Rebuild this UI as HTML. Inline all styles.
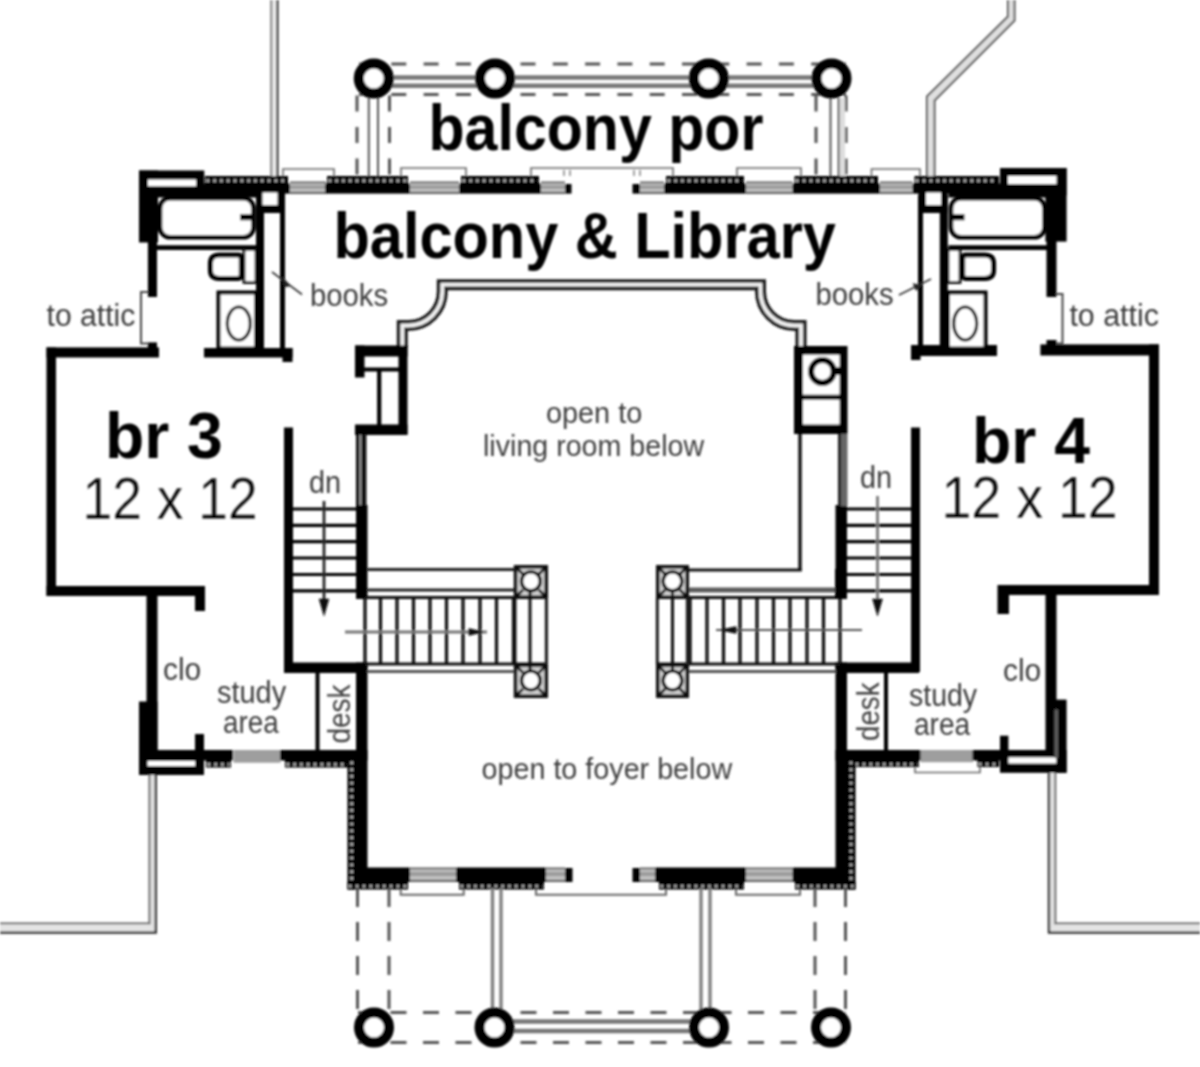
<!DOCTYPE html>
<html><head><meta charset="utf-8"><title>Floor plan</title>
<style>
html,body{margin:0;padding:0;background:#fff;}
svg{display:block;}
text{font-family:"Liberation Sans",sans-serif;}
</style></head>
<body>
<svg width="1200" height="1067" viewBox="0 0 1200 1067">
<defs><filter id="bl" x="0" y="0" width="1200" height="1067" filterUnits="userSpaceOnUse"><feGaussianBlur stdDeviation="0.8"/></filter></defs>
<rect width="1200" height="1067" fill="#fff"/>
<g filter="url(#bl)">
<line x1="357.00" y1="64.00" x2="846.00" y2="64.00" stroke="#555" stroke-width="3" stroke-dasharray="15 17.3" stroke-dashoffset="-2"/>
<line x1="357.00" y1="94.50" x2="846.00" y2="94.50" stroke="#555" stroke-width="3" stroke-dasharray="15 17.3" stroke-dashoffset="-2"/>
<line x1="374.00" y1="77.50" x2="831.00" y2="77.50" stroke="#777" stroke-width="4.5" />
<line x1="374.00" y1="85.80" x2="831.00" y2="85.80" stroke="#777" stroke-width="4.5" />
<line x1="357.00" y1="95.50" x2="357.00" y2="176.00" stroke="#555" stroke-width="3" stroke-dasharray="16 15.5"/>
<line x1="389.50" y1="95.50" x2="389.50" y2="176.00" stroke="#555" stroke-width="3" stroke-dasharray="16 15.5"/>
<line x1="816.00" y1="95.50" x2="816.00" y2="176.00" stroke="#555" stroke-width="3" stroke-dasharray="16 15.5"/>
<line x1="846.00" y1="95.50" x2="846.00" y2="176.00" stroke="#555" stroke-width="3" stroke-dasharray="16 15.5"/>
<line x1="368.80" y1="98.00" x2="368.80" y2="176.00" stroke="#555" stroke-width="2" />
<line x1="378.00" y1="98.00" x2="378.00" y2="176.00" stroke="#555" stroke-width="2" />
<line x1="830.50" y1="98.00" x2="830.50" y2="176.00" stroke="#555" stroke-width="2" />
<line x1="838.70" y1="98.00" x2="838.70" y2="176.00" stroke="#555" stroke-width="2" />
<rect x="840.00" y="98.00" width="5.00" height="78.00" fill="#ddd" />
<circle cx="373.75" cy="78.50" r="15.00" stroke="#000" stroke-width="10" fill="#fff"/>
<circle cx="495.00" cy="78.50" r="15.00" stroke="#000" stroke-width="10" fill="#fff"/>
<circle cx="708.75" cy="78.50" r="15.00" stroke="#000" stroke-width="10" fill="#fff"/>
<circle cx="831.50" cy="78.50" r="15.00" stroke="#000" stroke-width="10" fill="#fff"/>
<rect x="271.00" y="0.00" width="7.00" height="176.00" fill="#eee" />
<line x1="271.30" y1="0.00" x2="271.30" y2="176.00" stroke="#777" stroke-width="2" />
<line x1="277.30" y1="0.00" x2="277.30" y2="176.00" stroke="#444" stroke-width="2.6" />
<path d="M930.8 176 V98.5 L1011.2 18.5 V0" stroke="#e0e0e0" stroke-width="6" fill="none" />
<path d="M927 176 V96.5 L1008 16.5 V0" stroke="#555" stroke-width="2" fill="none" />
<path d="M934.5 176 V100.5 L1014.5 20.5 V0" stroke="#555" stroke-width="2" fill="none" />
<path d="M283 176.5 V169 H334 V176.5" stroke="#666" stroke-width="1.6" fill="none" />
<path d="M401 176.5 V168 H466 V176.5" stroke="#666" stroke-width="1.6" fill="none" />
<path d="M531 176.5 V168 H673 V176.5" stroke="#666" stroke-width="1.6" fill="none" />
<line x1="564.00" y1="170.00" x2="564.00" y2="176.00" stroke="#777" stroke-width="1.4" />
<line x1="570.00" y1="170.00" x2="570.00" y2="176.00" stroke="#777" stroke-width="1.4" />
<line x1="634.00" y1="170.00" x2="634.00" y2="176.00" stroke="#777" stroke-width="1.4" />
<line x1="640.00" y1="170.00" x2="640.00" y2="176.00" stroke="#777" stroke-width="1.4" />
<path d="M737 176.5 V168 H801 V176.5" stroke="#666" stroke-width="1.6" fill="none" />
<path d="M871.5 176.5 V169 H920 V176.5" stroke="#666" stroke-width="1.6" fill="none" />
<rect x="205.00" y="176.00" width="83.00" height="8.00" fill="#000" />
<line x1="206.50" y1="180.60" x2="286.50" y2="180.60" stroke="#b8b8b8" stroke-width="2.8" stroke-dasharray="2.6 4.2"/>
<rect x="203.00" y="183.50" width="87.00" height="10.10" fill="#000" />
<rect x="290.00" y="181.50" width="36.00" height="12.50" fill="#c4c4c4" />
<rect x="290.00" y="185.25" width="36.00" height="3.75" fill="#9c9c9c" />
<line x1="290.00" y1="182.50" x2="326.00" y2="182.50" stroke="#707070" stroke-width="2" />
<line x1="290.00" y1="192.90" x2="326.00" y2="192.90" stroke="#606060" stroke-width="2.2" />
<rect x="327.00" y="176.00" width="81.00" height="8.00" fill="#000" />
<line x1="328.50" y1="180.60" x2="406.50" y2="180.60" stroke="#b8b8b8" stroke-width="2.8" stroke-dasharray="2.6 4.2"/>
<rect x="325.00" y="183.50" width="85.00" height="10.10" fill="#000" />
<rect x="410.00" y="181.50" width="49.00" height="12.50" fill="#c4c4c4" />
<rect x="410.00" y="185.25" width="49.00" height="3.75" fill="#9c9c9c" />
<line x1="410.00" y1="182.50" x2="459.00" y2="182.50" stroke="#707070" stroke-width="2" />
<line x1="410.00" y1="192.90" x2="459.00" y2="192.90" stroke="#606060" stroke-width="2.2" />
<rect x="461.00" y="176.00" width="78.00" height="8.00" fill="#000" />
<line x1="462.50" y1="180.60" x2="537.50" y2="180.60" stroke="#b8b8b8" stroke-width="2.8" stroke-dasharray="2.6 4.2"/>
<rect x="459.00" y="183.50" width="82.00" height="10.10" fill="#000" />
<rect x="541.00" y="181.50" width="24.00" height="12.50" fill="#c4c4c4" />
<rect x="541.00" y="185.25" width="24.00" height="3.75" fill="#9c9c9c" />
<line x1="541.00" y1="182.50" x2="565.00" y2="182.50" stroke="#707070" stroke-width="2" />
<line x1="541.00" y1="192.90" x2="565.00" y2="192.90" stroke="#606060" stroke-width="2.2" />
<rect x="565.00" y="184.00" width="6.50" height="9.60" fill="#000" />
<rect x="632.50" y="184.00" width="7.50" height="9.60" fill="#000" />
<rect x="640.00" y="181.50" width="24.00" height="12.50" fill="#c4c4c4" />
<rect x="640.00" y="185.25" width="24.00" height="3.75" fill="#9c9c9c" />
<line x1="640.00" y1="182.50" x2="664.00" y2="182.50" stroke="#707070" stroke-width="2" />
<line x1="640.00" y1="192.90" x2="664.00" y2="192.90" stroke="#606060" stroke-width="2.2" />
<rect x="666.00" y="176.00" width="78.00" height="8.00" fill="#000" />
<line x1="667.50" y1="180.60" x2="742.50" y2="180.60" stroke="#b8b8b8" stroke-width="2.8" stroke-dasharray="2.6 4.2"/>
<rect x="664.00" y="183.50" width="82.00" height="10.10" fill="#000" />
<rect x="746.00" y="181.50" width="46.50" height="12.50" fill="#c4c4c4" />
<rect x="746.00" y="185.25" width="46.50" height="3.75" fill="#9c9c9c" />
<line x1="746.00" y1="182.50" x2="792.50" y2="182.50" stroke="#707070" stroke-width="2" />
<line x1="746.00" y1="192.90" x2="792.50" y2="192.90" stroke="#606060" stroke-width="2.2" />
<rect x="794.50" y="176.00" width="83.50" height="8.00" fill="#000" />
<line x1="796.00" y1="180.60" x2="876.50" y2="180.60" stroke="#b8b8b8" stroke-width="2.8" stroke-dasharray="2.6 4.2"/>
<rect x="792.50" y="183.50" width="87.50" height="10.10" fill="#000" />
<rect x="880.00" y="181.50" width="32.50" height="12.50" fill="#c4c4c4" />
<rect x="880.00" y="185.25" width="32.50" height="3.75" fill="#9c9c9c" />
<line x1="880.00" y1="182.50" x2="912.50" y2="182.50" stroke="#707070" stroke-width="2" />
<line x1="880.00" y1="192.90" x2="912.50" y2="192.90" stroke="#606060" stroke-width="2.2" />
<rect x="914.50" y="176.00" width="84.50" height="8.00" fill="#000" />
<line x1="916.00" y1="180.60" x2="997.50" y2="180.60" stroke="#b8b8b8" stroke-width="2.8" stroke-dasharray="2.6 4.2"/>
<rect x="912.50" y="183.50" width="88.50" height="10.10" fill="#000" />
<rect x="139.00" y="170.50" width="65.30" height="25.50" fill="#000" />
<rect x="1000.00" y="168.00" width="66.60" height="27.50" fill="#000" />
<rect x="139.00" y="170.50" width="19.00" height="72.00" fill="#000" />
<rect x="1045.40" y="168.00" width="21.20" height="73.60" fill="#000" />
<rect x="147.90" y="179.50" width="48.10" height="6.70" fill="#fff" />
<rect x="1008.00" y="176.00" width="48.50" height="8.00" fill="#fff" />
<rect x="147.90" y="242.00" width="9.10" height="55.00" fill="#000" />
<rect x="1046.50" y="241.00" width="10.00" height="56.00" fill="#000" />
<rect x="147.90" y="342.40" width="9.10" height="5.60" fill="#000" />
<rect x="1046.50" y="340.00" width="10.00" height="5.50" fill="#000" />
<rect x="46.50" y="347.40" width="112.50" height="10.10" fill="#000" />
<rect x="1040.40" y="344.40" width="118.60" height="11.10" fill="#000" />
<path d="M148 292 H141 V343.5 H148" stroke="#444" stroke-width="2" fill="none" />
<path d="M1056 294 H1062.5 V343.4 H1056" stroke="#444" stroke-width="2" fill="none" />
<rect x="256.00" y="195.00" width="8.00" height="155.00" fill="#000" />
<rect x="939.80" y="195.00" width="8.00" height="155.00" fill="#000" />
<rect x="280.00" y="195.00" width="5.00" height="155.00" fill="#000" />
<rect x="918.00" y="195.00" width="5.00" height="155.00" fill="#000" />
<rect x="256.00" y="192.00" width="29.00" height="21.00" fill="#000" />
<rect x="918.50" y="192.00" width="29.00" height="21.00" fill="#000" />
<rect x="262.50" y="192.50" width="15.00" height="12.50" fill="#fff" />
<rect x="926.00" y="192.50" width="15.00" height="12.50" fill="#fff" />
<rect x="204.00" y="348.00" width="88.50" height="9.50" fill="#000" />
<rect x="282.50" y="348.00" width="10.00" height="14.00" fill="#000" />
<rect x="911.00" y="345.00" width="86.00" height="11.00" fill="#000" />
<rect x="911.00" y="345.00" width="9.50" height="15.00" fill="#000" />
<rect x="156.00" y="193.00" width="100.00" height="4.50" fill="#000" />
<rect x="948.50" y="193.00" width="100.00" height="4.50" fill="#000" />
<rect x="160.00" y="198.3" width="93.50" height="39" rx="10" ry="10" fill="#fff" stroke="#000" stroke-width="4.6"/>
<line x1="156.00" y1="247.60" x2="256.00" y2="247.60" stroke="#000" stroke-width="4.8" />
<rect x="240.00" y="214.00" width="13.00" height="6.30" fill="#000" />
<rect x="951.00" y="198.3" width="93.50" height="39" rx="10" ry="10" fill="#fff" stroke="#000" stroke-width="4.6"/>
<line x1="1048.50" y1="247.60" x2="948.50" y2="247.60" stroke="#000" stroke-width="4.8" />
<rect x="951.50" y="214.00" width="13.00" height="6.30" fill="#000" />
<rect x="244.00" y="249.5" width="12.00" height="33" fill="#fff" stroke="#111" stroke-width="2.8"/>
<path d="M238 255 H219 Q210.4 255 210.4 263.5 V270 Q210.4 278.4 219 278.4 H238 Q241.3 278.4 241.3 275 V258.4 Q241.3 255 238 255 Z" stroke="#000" stroke-width="5" fill="#fff" />
<rect x="948.00" y="249.5" width="12.00" height="33" fill="#fff" stroke="#111" stroke-width="2.8"/>
<path d="M966 255 H985 Q993.6 255 993.6 263.5 V270 Q993.6 278.4 985 278.4 H966 Q962.7 278.4 962.7 275 V258.4 Q962.7 255 966 255 Z" stroke="#000" stroke-width="5" fill="#fff" />
<rect x="218.50" y="292.5" width="37.50" height="56" fill="#fff" stroke="#000" stroke-width="4"/>
<ellipse cx="238.80" cy="323.5" rx="11.5" ry="16.5" fill="#fff" stroke="#111" stroke-width="3.2"/>
<rect x="948.00" y="292.5" width="37.50" height="56" fill="#fff" stroke="#000" stroke-width="4"/>
<ellipse cx="965.20" cy="323.5" rx="11.5" ry="16.5" fill="#fff" stroke="#111" stroke-width="3.2"/>
<line x1="272.00" y1="272.00" x2="302.00" y2="294.50" stroke="#333" stroke-width="1.6" />
<path d="M282 276 L290 286 L284.5 287 Z" stroke="#222" stroke-width="0.5" fill="#222" />
<line x1="899.00" y1="295.00" x2="931.00" y2="279.00" stroke="#333" stroke-width="1.6" />
<path d="M913 283.5 L922 285.5 L916 290.5 Z" stroke="#222" stroke-width="0.5" fill="#222" />
<rect x="46.50" y="347.40" width="9.50" height="248.60" fill="#000" />
<rect x="1149.00" y="344.40" width="10.00" height="250.60" fill="#000" />
<rect x="46.50" y="586.00" width="158.50" height="10.00" fill="#000" />
<rect x="997.50" y="585.00" width="161.50" height="10.00" fill="#000" />
<rect x="195.00" y="596.00" width="10.00" height="15.00" fill="#000" />
<rect x="997.50" y="595.00" width="11.50" height="19.00" fill="#000" />
<rect x="146.50" y="592.00" width="11.00" height="165.00" fill="#000" />
<rect x="1045.50" y="592.00" width="11.00" height="165.00" fill="#000" />
<rect x="139.00" y="701.50" width="18.50" height="73.50" fill="#000" />
<rect x="139.00" y="750.00" width="65.00" height="25.00" fill="#000" />
<rect x="147.50" y="761.00" width="47.50" height="5.00" fill="#fff" />
<rect x="195.00" y="734.00" width="9.00" height="17.00" fill="#000" />
<rect x="1055.00" y="699.60" width="11.60" height="73.20" fill="#000" />
<rect x="1000.00" y="750.00" width="66.60" height="22.80" fill="#000" />
<rect x="1008.40" y="757.30" width="47.90" height="6.20" fill="#fff" />
<line x1="1056.30" y1="709.40" x2="1056.30" y2="758.00" stroke="#5c5c5c" stroke-width="3.6" />
<rect x="1000.00" y="735.70" width="8.40" height="16.30" fill="#000" />
<rect x="284.00" y="427.50" width="9.00" height="244.50" fill="#000" />
<rect x="911.00" y="427.50" width="9.00" height="244.50" fill="#000" />
<rect x="284.00" y="662.50" width="83.50" height="10.50" fill="#000" />
<rect x="835.50" y="662.50" width="83.50" height="10.50" fill="#000" />
<rect x="356.00" y="505.00" width="11.50" height="94.00" fill="#000" />
<rect x="835.50" y="505.00" width="11.50" height="94.00" fill="#000" />
<rect x="356.00" y="662.50" width="11.50" height="217.50" fill="#000" />
<rect x="835.50" y="662.50" width="11.50" height="217.50" fill="#000" />
<rect x="204.00" y="750.00" width="29.00" height="10.50" fill="#000" />
<rect x="206.00" y="760.00" width="25.00" height="7.50" fill="#000" />
<line x1="207.50" y1="764.35" x2="229.50" y2="764.35" stroke="#b8b8b8" stroke-width="2.8" stroke-dasharray="2.6 4.2"/>
<rect x="233.50" y="750.00" width="47.00" height="12.70" fill="#9e9e9e" />
<rect x="280.00" y="750.00" width="87.50" height="10.50" fill="#000" />
<rect x="285.00" y="760.00" width="71.00" height="7.50" fill="#000" />
<line x1="286.50" y1="764.35" x2="354.50" y2="764.35" stroke="#b8b8b8" stroke-width="2.8" stroke-dasharray="2.6 4.2"/>
<rect x="835.50" y="750.00" width="85.50" height="10.50" fill="#000" />
<rect x="847.50" y="760.00" width="71.50" height="7.00" fill="#000" />
<line x1="849.00" y1="764.10" x2="917.50" y2="764.10" stroke="#b8b8b8" stroke-width="2.8" stroke-dasharray="2.6 4.2"/>
<rect x="920.50" y="750.00" width="52.50" height="12.20" fill="#9e9e9e" />
<rect x="972.50" y="750.00" width="27.50" height="10.50" fill="#000" />
<rect x="977.50" y="760.00" width="21.50" height="7.00" fill="#000" />
<line x1="979.00" y1="764.10" x2="997.50" y2="764.10" stroke="#b8b8b8" stroke-width="2.8" stroke-dasharray="2.6 4.2"/>
<path d="M915 767 V772.5 H980 V767" stroke="#666" stroke-width="1.6" fill="none" />
<rect x="315.50" y="673.00" width="4.00" height="77.00" fill="#000" />
<rect x="884.00" y="673.00" width="4.00" height="77.00" fill="#000" />
<rect x="347.50" y="760.00" width="9.00" height="129.50" fill="#000" />
<line x1="351.70" y1="761.50" x2="351.70" y2="888.00" stroke="#b8b8b8" stroke-width="2.8" stroke-dasharray="2.6 4.2"/>
<rect x="847.00" y="760.00" width="8.50" height="129.50" fill="#000" />
<line x1="850.95" y1="761.50" x2="850.95" y2="888.00" stroke="#b8b8b8" stroke-width="2.8" stroke-dasharray="2.6 4.2"/>
<rect x="356.00" y="867.50" width="54.00" height="14.50" fill="#000" />
<rect x="347.50" y="881.50" width="60.50" height="8.00" fill="#000" />
<line x1="349.00" y1="886.10" x2="406.50" y2="886.10" stroke="#b8b8b8" stroke-width="2.8" stroke-dasharray="2.6 4.2"/>
<rect x="410.00" y="867.50" width="46.00" height="14.50" fill="#c4c4c4" />
<rect x="410.00" y="871.85" width="46.00" height="4.35" fill="#9c9c9c" />
<line x1="410.00" y1="868.50" x2="456.00" y2="868.50" stroke="#707070" stroke-width="2" />
<line x1="410.00" y1="880.90" x2="456.00" y2="880.90" stroke="#606060" stroke-width="2.2" />
<rect x="456.00" y="867.50" width="90.00" height="14.50" fill="#000" />
<rect x="459.00" y="881.50" width="85.00" height="8.00" fill="#000" />
<line x1="460.50" y1="886.10" x2="542.50" y2="886.10" stroke="#b8b8b8" stroke-width="2.8" stroke-dasharray="2.6 4.2"/>
<rect x="546.00" y="867.50" width="19.00" height="14.50" fill="#c4c4c4" />
<rect x="546.00" y="871.85" width="19.00" height="4.35" fill="#9c9c9c" />
<line x1="546.00" y1="868.50" x2="565.00" y2="868.50" stroke="#707070" stroke-width="2" />
<line x1="546.00" y1="880.90" x2="565.00" y2="880.90" stroke="#606060" stroke-width="2.2" />
<rect x="565.00" y="868.00" width="7.50" height="14.00" fill="#000" />
<rect x="632.50" y="868.00" width="7.50" height="14.00" fill="#000" />
<rect x="640.00" y="867.50" width="15.00" height="14.50" fill="#c4c4c4" />
<rect x="640.00" y="871.85" width="15.00" height="4.35" fill="#9c9c9c" />
<line x1="640.00" y1="868.50" x2="655.00" y2="868.50" stroke="#707070" stroke-width="2" />
<line x1="640.00" y1="880.90" x2="655.00" y2="880.90" stroke="#606060" stroke-width="2.2" />
<rect x="655.00" y="867.50" width="91.00" height="14.50" fill="#000" />
<rect x="659.00" y="881.50" width="85.00" height="8.00" fill="#000" />
<line x1="660.50" y1="886.10" x2="742.50" y2="886.10" stroke="#b8b8b8" stroke-width="2.8" stroke-dasharray="2.6 4.2"/>
<rect x="746.00" y="867.50" width="46.50" height="14.50" fill="#c4c4c4" />
<rect x="746.00" y="871.85" width="46.50" height="4.35" fill="#9c9c9c" />
<line x1="746.00" y1="868.50" x2="792.50" y2="868.50" stroke="#707070" stroke-width="2" />
<line x1="746.00" y1="880.90" x2="792.50" y2="880.90" stroke="#606060" stroke-width="2.2" />
<rect x="792.50" y="867.50" width="55.00" height="14.50" fill="#000" />
<rect x="795.00" y="881.50" width="60.50" height="8.00" fill="#000" />
<line x1="796.50" y1="886.10" x2="854.00" y2="886.10" stroke="#b8b8b8" stroke-width="2.8" stroke-dasharray="2.6 4.2"/>
<path d="M400.7 889 V894.7 H463.7 V889" stroke="#666" stroke-width="2" fill="none" />
<path d="M536 889 V894.7 H666 V889" stroke="#666" stroke-width="2" fill="none" />
<path d="M736 889 V894.7 H800 V889" stroke="#666" stroke-width="2" fill="none" />
<line x1="357.50" y1="888.00" x2="357.50" y2="1010.00" stroke="#555" stroke-width="3" stroke-dasharray="19 15"/>
<line x1="389.00" y1="888.00" x2="389.00" y2="1010.00" stroke="#555" stroke-width="3" stroke-dasharray="19 15"/>
<line x1="815.00" y1="888.00" x2="815.00" y2="1010.00" stroke="#555" stroke-width="3" stroke-dasharray="19 15"/>
<line x1="845.50" y1="888.00" x2="845.50" y2="1010.00" stroke="#555" stroke-width="3" stroke-dasharray="19 15"/>
<line x1="357.00" y1="1012.50" x2="846.00" y2="1012.50" stroke="#555" stroke-width="3" stroke-dasharray="16 16.5" stroke-dashoffset="-1"/>
<line x1="357.00" y1="1042.50" x2="846.00" y2="1042.50" stroke="#555" stroke-width="3" stroke-dasharray="16 16.5" stroke-dashoffset="-1"/>
<line x1="495.00" y1="1021.50" x2="709.00" y2="1021.50" stroke="#777" stroke-width="4.5" />
<line x1="495.00" y1="1031.00" x2="709.00" y2="1031.00" stroke="#777" stroke-width="4.5" />
<line x1="492.50" y1="888.00" x2="492.50" y2="1010.00" stroke="#808080" stroke-width="3.4" />
<line x1="501.00" y1="888.00" x2="501.00" y2="1010.00" stroke="#808080" stroke-width="3.4" />
<line x1="701.00" y1="888.00" x2="701.00" y2="1010.00" stroke="#808080" stroke-width="3.4" />
<line x1="710.00" y1="888.00" x2="710.00" y2="1010.00" stroke="#808080" stroke-width="3.4" />
<circle cx="374.00" cy="1027.50" r="15.00" stroke="#000" stroke-width="10" fill="#fff"/>
<circle cx="494.50" cy="1027.50" r="15.00" stroke="#000" stroke-width="10" fill="#fff"/>
<circle cx="709.00" cy="1027.50" r="15.00" stroke="#000" stroke-width="10" fill="#fff"/>
<circle cx="831.00" cy="1027.50" r="15.00" stroke="#000" stroke-width="10" fill="#fff"/>
<path d="M152.6 775 V928 H0" stroke="#e4e4e4" stroke-width="6" fill="none" />
<path d="M1052.2 773 V928 H1200" stroke="#e4e4e4" stroke-width="6" fill="none" />
<path d="M149.5 775 V923.5 H0" stroke="#666" stroke-width="2" fill="none" />
<path d="M155.8 775 V932.5 H0" stroke="#333" stroke-width="2.4" fill="none" />
<path d="M1055.3 773 V923.5 H1200" stroke="#666" stroke-width="2" fill="none" />
<path d="M1049 773 V932.5 H1200" stroke="#333" stroke-width="2.4" fill="none" />
<path d="M402.3 347 V325.5 H408.3 A34 34 0 0 0 442.3 291.5 V284.7 H760.5 V291.5 A34 34 0 0 0 794.5 325.5 H801 V347" stroke="#1c1c1c" stroke-width="11" fill="none" stroke-linejoin="miter"/>
<path d="M402.3 347 V325.5 H408.3 A34 34 0 0 0 442.3 291.5 V284.7 H760.5 V291.5 A34 34 0 0 0 794.5 325.5 H801 V347" stroke="#f2f2f2" stroke-width="3.8" fill="none" stroke-linejoin="miter"/>
<rect x="355.00" y="345.50" width="52.50" height="11.00" fill="#000" />
<rect x="355.00" y="345.50" width="9.50" height="32.00" fill="#000" />
<rect x="398.50" y="346.00" width="9.00" height="88.50" fill="#000" />
<rect x="355.00" y="424.50" width="52.50" height="10.50" fill="#000" />
<line x1="364.00" y1="369.50" x2="399.00" y2="369.50" stroke="#000" stroke-width="4" />
<line x1="379.20" y1="369.00" x2="379.20" y2="425.00" stroke="#000" stroke-width="4.2" />
<rect x="356.00" y="434.00" width="10.40" height="72.00" fill="#0c0c0c" />
<line x1="360.40" y1="435.00" x2="360.40" y2="505.00" stroke="#b0b0b0" stroke-width="1.8" />
<rect x="794.00" y="346.00" width="53.50" height="88.00" fill="#000" />
<rect x="803.00" y="354.70" width="36.60" height="40.00" fill="#fff" />
<rect x="803.00" y="399.70" width="36.60" height="24.80" fill="#fff" />
<circle cx="822.40" cy="371.50" r="11.40" stroke="#000" stroke-width="6" fill="#fff"/>
<rect x="833.00" y="367.00" width="7.00" height="8.00" fill="#000" />
<line x1="800.00" y1="434.00" x2="800.00" y2="571.00" stroke="#111" stroke-width="3.4" />
<rect x="838.00" y="434.00" width="9.50" height="72.00" fill="#666" />
<rect x="838.00" y="434.00" width="3.00" height="72.00" fill="#222" />
<line x1="689.00" y1="570.00" x2="801.60" y2="570.00" stroke="#111" stroke-width="2.8" />
<line x1="293.00" y1="509.00" x2="356.00" y2="509.00" stroke="#000" stroke-width="3.2" />
<line x1="847.00" y1="509.00" x2="911.00" y2="509.00" stroke="#000" stroke-width="3.2" />
<line x1="293.00" y1="525.30" x2="356.00" y2="525.30" stroke="#000" stroke-width="3.2" />
<line x1="847.00" y1="525.30" x2="911.00" y2="525.30" stroke="#000" stroke-width="3.2" />
<line x1="293.00" y1="541.60" x2="356.00" y2="541.60" stroke="#000" stroke-width="3.2" />
<line x1="847.00" y1="541.60" x2="911.00" y2="541.60" stroke="#000" stroke-width="3.2" />
<line x1="293.00" y1="558.00" x2="356.00" y2="558.00" stroke="#000" stroke-width="3.2" />
<line x1="847.00" y1="558.00" x2="911.00" y2="558.00" stroke="#000" stroke-width="3.2" />
<line x1="293.00" y1="574.50" x2="356.00" y2="574.50" stroke="#000" stroke-width="3.2" />
<line x1="847.00" y1="574.50" x2="911.00" y2="574.50" stroke="#000" stroke-width="3.2" />
<line x1="293.00" y1="590.80" x2="356.00" y2="590.80" stroke="#000" stroke-width="3.2" />
<line x1="847.00" y1="590.80" x2="911.00" y2="590.80" stroke="#000" stroke-width="3.2" />
<line x1="324.00" y1="501.00" x2="324.00" y2="603.00" stroke="#222" stroke-width="2.8" />
<path d="M319 599 L329 599 L324 616 Z" stroke="#111" stroke-width="0.5" fill="#111" />
<line x1="877.50" y1="496.00" x2="877.50" y2="603.00" stroke="#777" stroke-width="2.8" />
<path d="M872.5 599 L882.5 599 L877.5 616 Z" stroke="#111" stroke-width="0.5" fill="#111" />
<line x1="365.00" y1="597.00" x2="365.00" y2="664.00" stroke="#0a0a0a" stroke-width="3.2" />
<line x1="380.50" y1="597.00" x2="380.50" y2="664.00" stroke="#0a0a0a" stroke-width="3.2" />
<line x1="397.00" y1="597.00" x2="397.00" y2="664.00" stroke="#0a0a0a" stroke-width="3.2" />
<line x1="413.50" y1="597.00" x2="413.50" y2="664.00" stroke="#0a0a0a" stroke-width="3.2" />
<line x1="430.00" y1="597.00" x2="430.00" y2="664.00" stroke="#0a0a0a" stroke-width="3.2" />
<line x1="446.50" y1="597.00" x2="446.50" y2="664.00" stroke="#0a0a0a" stroke-width="3.2" />
<line x1="463.00" y1="597.00" x2="463.00" y2="664.00" stroke="#0a0a0a" stroke-width="3.2" />
<line x1="480.00" y1="597.00" x2="480.00" y2="664.00" stroke="#0a0a0a" stroke-width="3.2" />
<line x1="496.50" y1="597.00" x2="496.50" y2="664.00" stroke="#0a0a0a" stroke-width="3.2" />
<line x1="513.50" y1="597.00" x2="513.50" y2="664.00" stroke="#0a0a0a" stroke-width="3.2" />
<line x1="690.00" y1="597.00" x2="690.00" y2="664.00" stroke="#0a0a0a" stroke-width="3.2" />
<line x1="707.00" y1="597.00" x2="707.00" y2="664.00" stroke="#0a0a0a" stroke-width="3.2" />
<line x1="723.50" y1="597.00" x2="723.50" y2="664.00" stroke="#0a0a0a" stroke-width="3.2" />
<line x1="740.00" y1="597.00" x2="740.00" y2="664.00" stroke="#0a0a0a" stroke-width="3.2" />
<line x1="757.00" y1="597.00" x2="757.00" y2="664.00" stroke="#0a0a0a" stroke-width="3.2" />
<line x1="773.50" y1="597.00" x2="773.50" y2="664.00" stroke="#0a0a0a" stroke-width="3.2" />
<line x1="790.00" y1="597.00" x2="790.00" y2="664.00" stroke="#0a0a0a" stroke-width="3.2" />
<line x1="807.00" y1="597.00" x2="807.00" y2="664.00" stroke="#0a0a0a" stroke-width="3.2" />
<line x1="823.50" y1="597.00" x2="823.50" y2="664.00" stroke="#0a0a0a" stroke-width="3.2" />
<line x1="840.00" y1="597.00" x2="840.00" y2="664.00" stroke="#0a0a0a" stroke-width="3.2" />
<line x1="365.00" y1="597.50" x2="546.00" y2="597.50" stroke="#111" stroke-width="3" />
<line x1="365.00" y1="664.00" x2="546.00" y2="664.00" stroke="#111" stroke-width="3" />
<line x1="657.00" y1="597.50" x2="840.00" y2="597.50" stroke="#111" stroke-width="3" />
<line x1="657.00" y1="664.00" x2="840.00" y2="664.00" stroke="#111" stroke-width="3" />
<line x1="367.50" y1="569.50" x2="515.00" y2="569.50" stroke="#222" stroke-width="3" />
<line x1="367.50" y1="590.00" x2="515.00" y2="590.00" stroke="#222" stroke-width="3" />
<line x1="367.50" y1="671.50" x2="515.00" y2="671.50" stroke="#555" stroke-width="3.2" />
<line x1="689.00" y1="590.00" x2="838.00" y2="590.00" stroke="#5a5a5a" stroke-width="5" />
<line x1="689.00" y1="671.50" x2="836.00" y2="671.50" stroke="#555" stroke-width="3.2" />
<rect x="835.00" y="569.00" width="11.50" height="30.00" fill="#000" />
<line x1="345.00" y1="632.00" x2="487.00" y2="632.00" stroke="#777" stroke-width="3" />
<path d="M469 628.7 L482.5 632 L469 635.3 Z" stroke="#111" stroke-width="1" fill="#111" />
<line x1="716.00" y1="630.00" x2="862.00" y2="630.00" stroke="#555" stroke-width="1.8" />
<path d="M736 626.7 L721 630 L736 633.3 Z" stroke="#111" stroke-width="1" fill="#111" />
<rect x="513.80" y="565.00" width="34.20" height="34.00" fill="#0a0a0a" />
<rect x="517.40" y="568.60" width="27.00" height="26.80" fill="#d4d4d4" />
<line x1="516.80" y1="568.00" x2="522.80" y2="574.00" stroke="#111" stroke-width="3" />
<line x1="545.00" y1="568.00" x2="539.00" y2="574.00" stroke="#111" stroke-width="3" />
<line x1="516.80" y1="596.00" x2="522.80" y2="590.00" stroke="#111" stroke-width="3" />
<line x1="545.00" y1="596.00" x2="539.00" y2="590.00" stroke="#111" stroke-width="3" />
<circle cx="530.90" cy="581.30" r="9.40" stroke="#000" stroke-width="3.4" fill="#fff"/>
<rect x="513.80" y="663.50" width="34.20" height="34.50" fill="#0a0a0a" />
<rect x="517.40" y="667.10" width="27.00" height="27.30" fill="#d4d4d4" />
<line x1="516.80" y1="666.50" x2="522.80" y2="672.50" stroke="#111" stroke-width="3" />
<line x1="545.00" y1="666.50" x2="539.00" y2="672.50" stroke="#111" stroke-width="3" />
<line x1="516.80" y1="695.00" x2="522.80" y2="689.00" stroke="#111" stroke-width="3" />
<line x1="545.00" y1="695.00" x2="539.00" y2="689.00" stroke="#111" stroke-width="3" />
<circle cx="530.90" cy="680.50" r="9.40" stroke="#000" stroke-width="3.4" fill="#fff"/>
<line x1="515.10" y1="598.00" x2="515.10" y2="664.50" stroke="#111" stroke-width="2.8" />
<line x1="546.40" y1="598.00" x2="546.40" y2="664.50" stroke="#222" stroke-width="3.2" />
<line x1="530.00" y1="590.00" x2="530.00" y2="672.00" stroke="#111" stroke-width="3" />
<rect x="656.00" y="565.00" width="33.00" height="34.00" fill="#0a0a0a" />
<rect x="659.60" y="568.60" width="25.80" height="26.80" fill="#d4d4d4" />
<line x1="659.00" y1="568.00" x2="665.00" y2="574.00" stroke="#111" stroke-width="3" />
<line x1="686.00" y1="568.00" x2="680.00" y2="574.00" stroke="#111" stroke-width="3" />
<line x1="659.00" y1="596.00" x2="665.00" y2="590.00" stroke="#111" stroke-width="3" />
<line x1="686.00" y1="596.00" x2="680.00" y2="590.00" stroke="#111" stroke-width="3" />
<circle cx="672.50" cy="581.30" r="9.40" stroke="#000" stroke-width="3.4" fill="#fff"/>
<rect x="656.00" y="663.50" width="33.00" height="34.50" fill="#0a0a0a" />
<rect x="659.60" y="667.10" width="25.80" height="27.30" fill="#d4d4d4" />
<line x1="659.00" y1="666.50" x2="665.00" y2="672.50" stroke="#111" stroke-width="3" />
<line x1="686.00" y1="666.50" x2="680.00" y2="672.50" stroke="#111" stroke-width="3" />
<line x1="659.00" y1="695.00" x2="665.00" y2="689.00" stroke="#111" stroke-width="3" />
<line x1="686.00" y1="695.00" x2="680.00" y2="689.00" stroke="#111" stroke-width="3" />
<circle cx="672.50" cy="680.50" r="9.40" stroke="#000" stroke-width="3.4" fill="#fff"/>
<line x1="657.30" y1="598.00" x2="657.30" y2="664.50" stroke="#111" stroke-width="2.8" />
<line x1="687.40" y1="598.00" x2="687.40" y2="664.50" stroke="#222" stroke-width="3.2" />
<line x1="672.50" y1="590.00" x2="672.50" y2="672.00" stroke="#111" stroke-width="3" />
<text x="428.50" y="150.00" font-size="64" font-weight="bold" fill="#000" text-anchor="start" textLength="334.9" lengthAdjust="spacingAndGlyphs" >balcony por</text>
<text x="333.50" y="257.50" font-size="64" font-weight="bold" fill="#000" text-anchor="start" textLength="502.4" lengthAdjust="spacingAndGlyphs" >balcony &amp; Library</text>
<text x="105.00" y="458.30" font-size="64" font-weight="bold" fill="#000" text-anchor="start" textLength="117.8" lengthAdjust="spacingAndGlyphs" >br 3</text>
<text x="972.00" y="462.50" font-size="64" font-weight="bold" fill="#000" text-anchor="start" textLength="118.0" lengthAdjust="spacingAndGlyphs" >br 4</text>
<text x="82.50" y="519.30" font-size="60" font-weight="normal" fill="#000" text-anchor="start" textLength="175.2" lengthAdjust="spacingAndGlyphs" stroke="#fff" stroke-width="0.25">12 x 12</text>
<text x="941.50" y="517.70" font-size="60" font-weight="normal" fill="#000" text-anchor="start" textLength="176.2" lengthAdjust="spacingAndGlyphs" stroke="#fff" stroke-width="0.25">12 x 12</text>
<text x="310.00" y="306.00" font-size="31" font-weight="normal" fill="#3c3c3c" text-anchor="start" textLength="78.1" lengthAdjust="spacingAndGlyphs" >books</text>
<text x="815.50" y="305.00" font-size="31" font-weight="normal" fill="#3c3c3c" text-anchor="start" textLength="78.1" lengthAdjust="spacingAndGlyphs" >books</text>
<text x="46.50" y="326.20" font-size="31" font-weight="normal" fill="#3c3c3c" text-anchor="start" textLength="88.86" lengthAdjust="spacingAndGlyphs" >to attic</text>
<text x="1069.40" y="326.20" font-size="31" font-weight="normal" fill="#3c3c3c" text-anchor="start" textLength="89.44" lengthAdjust="spacingAndGlyphs" >to attic</text>
<text x="309.00" y="492.50" font-size="31" font-weight="normal" fill="#3c3c3c" text-anchor="start" textLength="32.1" lengthAdjust="spacingAndGlyphs" >dn</text>
<text x="860.00" y="487.50" font-size="31" font-weight="normal" fill="#3c3c3c" text-anchor="start" textLength="32.1" lengthAdjust="spacingAndGlyphs" >dn</text>
<text x="546.00" y="423.00" font-size="29.5" font-weight="normal" fill="#3c3c3c" text-anchor="start" textLength="96.2" lengthAdjust="spacingAndGlyphs" >open to</text>
<text x="483.00" y="456.00" font-size="29.5" font-weight="normal" fill="#3c3c3c" text-anchor="start" textLength="221.1" lengthAdjust="spacingAndGlyphs" >living room below</text>
<text x="481.50" y="779.00" font-size="29.5" font-weight="normal" fill="#3c3c3c" text-anchor="start" textLength="250.7" lengthAdjust="spacingAndGlyphs" >open to foyer below</text>
<text x="163.00" y="680.00" font-size="31" font-weight="normal" fill="#3c3c3c" text-anchor="start" textLength="38.2" lengthAdjust="spacingAndGlyphs" >clo</text>
<text x="1003.00" y="681.00" font-size="31" font-weight="normal" fill="#3c3c3c" text-anchor="start" textLength="38.2" lengthAdjust="spacingAndGlyphs" >clo</text>
<text x="217.00" y="702.50" font-size="31" font-weight="normal" fill="#3c3c3c" text-anchor="start" textLength="69.1" lengthAdjust="spacingAndGlyphs" >study</text>
<text x="223.00" y="732.50" font-size="31" font-weight="normal" fill="#3c3c3c" text-anchor="start" textLength="55.7" lengthAdjust="spacingAndGlyphs" >area</text>
<text x="909.00" y="706.00" font-size="31" font-weight="normal" fill="#3c3c3c" text-anchor="start" textLength="68.1" lengthAdjust="spacingAndGlyphs" >study</text>
<text x="914.00" y="735.00" font-size="31" font-weight="normal" fill="#3c3c3c" text-anchor="start" textLength="56.2" lengthAdjust="spacingAndGlyphs" >area</text>
<text transform="translate(349.5,743.5) rotate(-90)" font-size="31" fill="#3c3c3c" textLength="59" lengthAdjust="spacingAndGlyphs">desk</text>
<text transform="translate(878.5,741) rotate(-90)" font-size="31" fill="#3c3c3c" textLength="58.5" lengthAdjust="spacingAndGlyphs">desk</text>
</g>
</svg>
</body></html>
